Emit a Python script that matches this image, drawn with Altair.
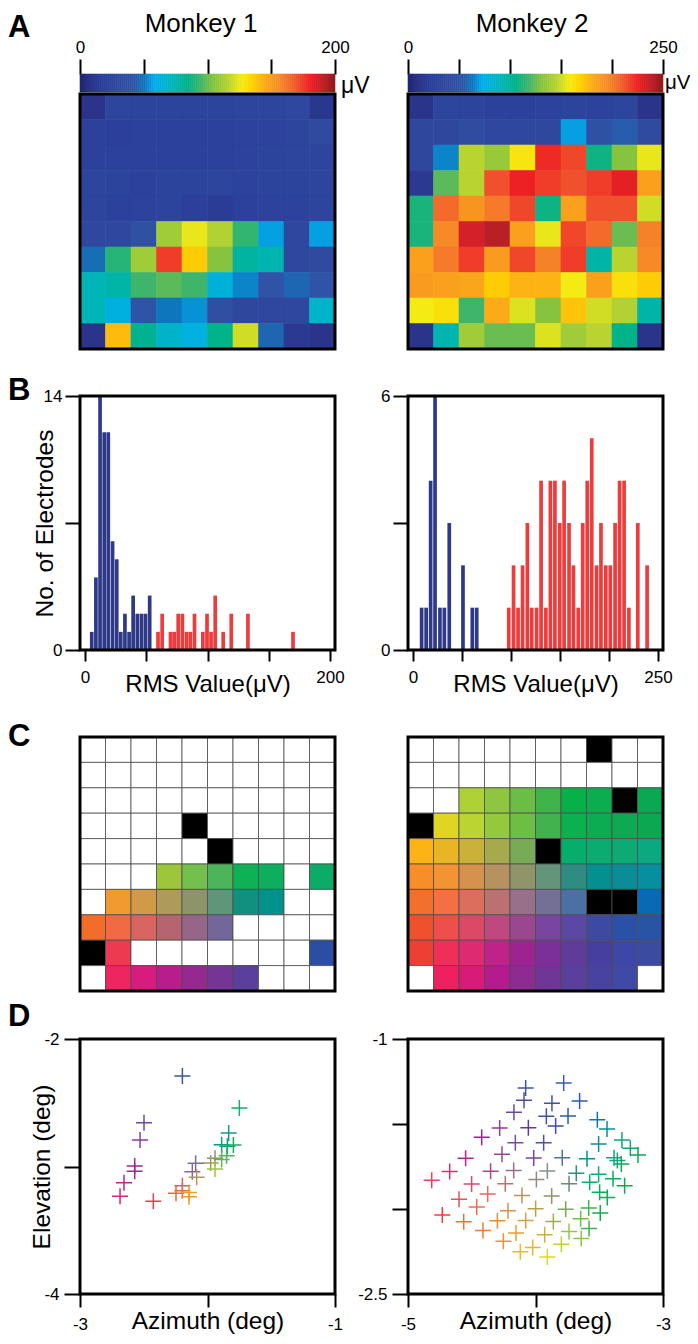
import altair as alt
import pandas as pd

FONT = "Liberation Sans"
W, H = 255, 255
one = alt.Data(values=[{"k": 0}])

# colour map of panel A (position on the bar in percent, colour)
cmap_stops = [0, 3, 8, 15, 21, 25, 29, 36, 42, 47, 52, 58, 63, 67, 72, 78, 84, 90, 95, 100]
cmap_colors = ["#1f2573", "#2a3186", "#2b3f9b", "#304a9f", "#2f55a7", "#0e76bc", "#00aeef", "#00b5b8", "#00b388",
               "#3fb56b", "#86c440", "#b9d431", "#f5eb14", "#ffd400", "#fbab18", "#f78a26", "#f15a2e",
               "#ed2024", "#c3202a", "#8a1a1c"]

# panel A: RMS per electrode, as percent of the colour-bar range
heat1 = [
    [4, 12, 11, 11, 11, 11, 12, 12, 13, 5],
    [9, 8, 9, 9, 9, 9, 10, 10, 12, 15],
    [9, 9, 9, 9, 9, 9, 10, 11, 12, 12],
    [12, 11, 9, 11, 11, 12, 10, 11, 11, 12],
    [12, 9, 10, 11, 8, 7, 9, 10, 10, 12],
    [13, 13, 19, 55, 62, 57, 46, 28, 13, 28],
    [24, 45, 55, 87, 68, 52, 39, 37, 13, 15],
    [36, 38, 47, 49, 47, 32, 26, 20, 23, 20],
    [36, 31, 20, 25, 27, 17, 14, 13, 13, 34],
    [4, 70, 41, 34, 31, 42, 60, 23, 6, 4],
]
heat2 = [
    [4, 12, 11, 9, 9, 10, 11, 10, 12, 4],
    [14, 14, 16, 13, 13, 14, 28, 19, 22, 15],
    [14, 26, 58, 54, 64, 89, 86, 43, 52, 62],
    [6, 49, 58, 85, 90, 87, 85, 87, 91, 74],
    [44, 82, 76, 80, 86, 43, 74, 85, 85, 60],
    [44, 78, 93, 96, 74, 62, 86, 82, 50, 79],
    [74, 80, 87, 75, 86, 79, 87, 38, 58, 78],
    [75, 74, 73, 68, 71, 71, 63, 74, 65, 68],
    [63, 65, 47, 72, 61, 52, 69, 60, 57, 38],
    [4, 37, 55, 50, 50, 61, 55, 58, 42, 4],
]

# panel B: histogram bins (bin centre in uV, count)
h1_blue_x = [5.5, 8.9, 12.3, 15.7, 19.0, 22.5, 25.9, 29.2, 32.6, 36.0, 39.3, 42.7, 46.1, 49.4, 52.8]
h1_blue_n = [1, 4, 14, 12, 12, 6, 5, 1, 2, 1, 3, 2, 2, 2, 3]
h1_red_x = [59.6, 63.0, 69.8, 72.8, 76.1, 79.5, 82.9, 86.0, 89.4, 96.2, 99.6, 102.9, 106.3, 112.8, 119.4, 133.0, 169.8]
h1_red_n = [1, 2, 1, 1, 2, 2, 1, 1, 2, 1, 2, 1, 3, 1, 2, 2, 1]
h2_blue_x = [8.8, 13.4, 18.0, 22.5, 27.5, 32.0, 37.0, 51.0, 60.5, 65.0]
h2_blue_n = [1, 1, 4, 6, 1, 1, 3, 2, 1, 1]
h2_red_x = [97.7, 102.6, 107.2, 111.8, 116.7, 121.2, 126.1, 130.7, 135.6, 140.2, 144.8, 149.7, 154.2, 159.2,
            163.7, 168.6, 173.2, 177.8, 182.4, 187.3, 191.8, 196.7, 201.3, 206.2, 210.8, 215.4, 220.3, 229.4, 238.9]
h2_red_n = [1, 2, 1, 2, 3, 1, 1, 4, 1, 4, 4, 3, 4, 3, 2, 1, 3, 4, 5, 2, 3, 2, 2, 3, 4, 4, 1, 3, 2]

# panel C: colour of each electrode
_ = "#ffffff"
K = "#000000"
grid1 = [
    [_, _, _, _, _, _, _, _, _, _],
    [_, _, _, _, _, _, _, _, _, _],
    [_, _, _, _, _, _, _, _, _, _],
    [_, _, _, _, K, _, _, _, _, _],
    [_, _, _, _, _, K, _, _, _, _],
    [_, _, _, "#9dc63c", "#74c04c", "#4cb45a", "#0fb157", "#0daf5e", _, "#0dab68"],
    [_, "#f19a2f", "#d09a46", "#ae9a5a", "#8d9469", "#5f9578", "#12907f", "#00928b", _, _],
    ["#f36d2a", "#f26a44", "#d96560", "#b76471", "#966688", "#736799", _, _, _, _],
    [K, "#ee3a50", _, _, _, _, _, _, _, "#2a4fa2"],
    [_, "#ee2560", "#d81c7e", "#b91c8c", "#96298f", "#733596", "#5a3f9c", _, _, _],
]
grid2 = [
    [_, _, _, _, _, _, _, K, _, _],
    [_, _, _, _, _, _, _, _, _, _],
    [_, _, "#aed136", "#8ec63f", "#6abd45", "#3fb44a", "#08b04a", "#0aae4f", K, "#09a851"],
    [K, "#e0d622", "#bcd431", "#93c93d", "#6cbe45", "#41b24e", "#0bb04f", "#0bac52", "#0eaa53", "#0ca751"],
    ["#fdb315", "#e8b624", "#c9b13a", "#a5ab4c", "#78ab55", K, "#05ae6a", "#0aac6f", "#0cab75", "#0aa97f"],
    ["#f78e29", "#f29433", "#d4924e", "#b5925f", "#8f9469", "#64947a", "#2e8c80", "#048f91", "#0c8c99", "#078fa0"],
    ["#f36f2e", "#f47044", "#db6e5c", "#bd7070", "#99708a", "#747095", "#4a70a4", K, K, "#0a69b3"],
    ["#f0512d", "#ef4f4c", "#db4966", "#c04880", "#99478f", "#7a45a0", "#5a48a2", "#3c4aa2", "#2a50a8", "#2854a6"],
    ["#ee3f35", "#ee2f58", "#de2a70", "#bf2288", "#9d2490", "#7a3098", "#5f3c9a", "#473fa0", "#3d47a5", "#3a4ba0"],
    [_, "#ee2060", "#d91b78", "#b51b8e", "#8e2b92", "#6f3698", "#5a3f9c", "#4842a0", "#3e4aa5", _],
]

# panel D: receptive field centres
d1_az = [-2.197, -1.750, -2.498, -2.529, -2.571, -2.571, -2.655, -2.686, -2.425, -1.834, -1.889, -1.844, -1.797,
         -1.850, -1.889, -1.941, -1.975, -1.941, -2.093, -2.119, -2.085, -2.197, -2.247, -2.197, -2.145, -2.145]
d1_el = [-2.290, -2.541, -2.656, -2.792, -2.996, -3.038, -3.127, -3.234, -3.273, -2.737, -2.829, -2.842, -2.831,
         -2.915, -2.946, -2.936, -2.973, -3.020, -2.975, -3.041, -3.085, -3.150, -3.210, -3.190, -3.203, -3.237]
d1_c = ["#3a54a4", "#12b06a", "#6a4a9f", "#8a3d9a", "#9a2a90", "#a5278f", "#c0228a", "#d9266f", "#ee3b50", "#0f9a8a",
        "#0f9a7c", "#10a070", "#0fb060", "#4cb45a", "#60b55a", "#8d9469", "#a09a5a", "#9dc63c", "#76709a", "#8a6a8a",
        "#ae9a5a", "#c06570", "#f2682a", "#f26a44", "#e0a03a", "#f19a2f"]

d2_az = [-4.077, -3.779, -4.090, -3.871, -3.654, -4.169, -3.915, -3.745, -3.515, -4.281, -4.056, -3.842, -3.439,
         -4.422, -4.158, -3.936, -3.505, -3.322, -4.548, -4.263, -4.014, -3.790, -3.596, -3.384, -3.256, -3.196,
         -3.358, -3.327, -4.673, -4.352, -4.171, -3.907, -3.680, -3.505, -3.392, -4.814, -4.501, -4.237, -3.993,
         -3.737, -3.575, -3.301, -4.600, -4.375, -4.106, -3.873, -3.497, -3.437, -4.731, -4.461, -4.216, -3.999,
         -3.763, -3.583, -3.492, -4.563, -4.299, -4.077, -3.860, -3.646, -3.580, -4.412, -4.153, -3.928, -3.737,
         -3.641, -4.252, -4.022, -3.797, -4.119, -3.907]
d2_el = [-1.288, -1.259, -1.361, -1.378, -1.365, -1.431, -1.455, -1.453, -1.475, -1.524, -1.522, -1.512, -1.529,
         -1.578, -1.610, -1.610, -1.618, -1.594, -1.702, -1.678, -1.700, -1.698, -1.704, -1.698, -1.643, -1.682,
         -1.714, -1.735, -1.780, -1.778, -1.773, -1.776, -1.790, -1.796, -1.822, -1.831, -1.853, -1.851, -1.827,
         -1.851, -1.843, -1.863, -1.943, -1.912, -1.920, -1.924, -1.902, -1.933, -2.035, -1.988, -2.010, -1.998,
         -2.002, -1.994, -2.024, -2.075, -2.069, -2.067, -2.073, -2.057, -2.114, -2.127, -2.141, -2.151, -2.133,
         -2.173, -2.190, -2.227, -2.208, -2.251, -2.282]
d2_c = ["#3a54a4", "#3d5aa6", "#4a4ea3", "#3a55a5", "#2a5ca8", "#6a4a9f", "#3d52a5", "#2a5ca8", "#0a78b0", "#8a3d9a",
        "#5f3c9a", "#3d4ba5", "#0a8ca0", "#9d2490", "#7a4aa0", "#4f4fa3", "#0a8c9a", "#0cab75", "#c0228a", "#99478f",
        "#7a45a0", "#4a70a4", "#048f91", "#0aa97f", "#0baa62", "#0ca751", "#0aa97f", "#0eaa53", "#de2a70", "#bf3f80",
        "#99708a", "#859090", "#2e8c80", "#0aab70", "#0bac52", "#ee3f55", "#db4966", "#bd7070", "#948a80", "#6a8a7a",
        "#0aac6f", "#0ca751", "#ee4f55", "#db6e5c", "#b5925f", "#8f9469", "#0bb04f", "#0bac52", "#ee3f35", "#ef6a4c",
        "#d4924e", "#b5a050", "#78ab55", "#41b24e", "#0aae4f", "#f36f2e", "#f28a33", "#d4a040", "#a5ab4c", "#6cbe45",
        "#41b24e", "#f37a2e", "#e8a030", "#c9b13a", "#93c93d", "#8ec63f", "#f78e29", "#e8b624", "#bcd431", "#fdb315",
        "#e0d622"]

BLUE = "#2e3a87"
RED = "#ee3b3b"
cscale = alt.Scale(domain=cmap_stops, range=cmap_colors, interpolate="rgb", clamp=True)


def frame(w=W, h=H):
    return alt.Chart(one).mark_rect(fillOpacity=0, stroke="black", strokeWidth=3).encode(
        x=alt.value(0), x2=alt.value(w), y=alt.value(0), y2=alt.value(h))


def label(txt, x, y, size, weight="normal", align="left", baseline="middle"):
    return alt.Chart(one).mark_text(text=txt, font=FONT, fontSize=size, fontWeight=weight, align=align,
                                    baseline=baseline, color="black").encode(x=alt.value(x), y=alt.value(y))


def ends(a, b):
    return f"datum.value == {a} || datum.value == {b} ? '' + datum.value : ''"


def axis(values, a, b, orient, tick, pad, lab=17, tsize=24.5, **kw):
    return alt.Axis(orient=orient, values=values, labelExpr=ends(a, b), domain=False, grid=False, tickSize=tick,
                    tickWidth=2, tickColor="black", labelFont=FONT, labelFontSize=lab, labelColor="black",
                    labelPadding=pad, labelOverlap=False, labelFlush=False, titleFont=FONT, titleFontSize=tsize,
                    titleFontWeight="normal", titleColor="black", **kw)


def spacer(h):
    return alt.Chart(one).mark_point(opacity=0).encode(x=alt.value(0), y=alt.value(0)).properties(width=W, height=h)


def colorbar(vmax, extra):
    step = vmax / 128
    levels = [i / 128 * 100 for i in range(128)]
    df = pd.DataFrame({"p": levels, "v": [p * vmax / 100 for p in levels]})
    df["v2"] = df["v"] + step
    xs = alt.Scale(domain=[0, vmax], nice=False, zero=False)
    ticks = [vmax * i / 4 for i in range(5)] if vmax == 200 else [vmax * i / 5 for i in range(6)]
    bar = alt.Chart(df).mark_rect(strokeWidth=0.6).encode(
        x=alt.X("v:Q", scale=xs, title=None, axis=axis(ticks, 0, vmax, "top", 15, 3)),
        x2="v2:Q",
        color=alt.Color("p:Q", scale=cscale, legend=None),
        stroke=alt.Stroke("p:Q", scale=cscale, legend=None),
    )
    return alt.layer(bar, *extra).properties(width=W, height=18)


def heatmap(rows):
    cells = [{"r": r, "c": c, "p": v} for r, row in enumerate(rows) for c, v in enumerate(row)]
    sc = alt.Scale(domain=list(range(10)), paddingInner=0, paddingOuter=0, round=False)
    m = alt.Chart(alt.Data(values=cells)).mark_rect(strokeWidth=0.6).encode(
        x=alt.X("c:O", scale=sc, axis=None),
        y=alt.Y("r:O", scale=sc, axis=None),
        color=alt.Color("p:Q", scale=cscale, legend=None),
        stroke=alt.Stroke("p:Q", scale=cscale, legend=None),
    )
    return alt.layer(m, frame()).properties(width=W, height=H)


def hist(bx, bn, rx, rn, xmax, xticks, ymax, yticks, xtitle, ytitle, extra):
    df = pd.DataFrame({"x": bx + rx, "n": bn + rn, "s": ["b"] * len(bx) + ["r"] * len(rx)})
    yax = dict(title=ytitle)
    if ytitle:
        yax.update(titleX=-35, titleBaseline="middle")
    m = alt.Chart(df).mark_bar(size=3.7).encode(
        x=alt.X("x:Q", scale=alt.Scale(domain=[0, xmax], nice=False, zero=False),
                axis=axis(xticks, 0, xmax, "bottom", 11, 8.5, tsize=24, title=xtitle, titleY=34,
                          titleBaseline="middle")),
        y=alt.Y("n:Q", scale=alt.Scale(domain=[0, ymax], nice=False),
                axis=axis(yticks, 0, ymax, "left", 15, 3, **yax)),
        color=alt.Color("s:N", scale=alt.Scale(domain=["b", "r"], range=[BLUE, RED]), legend=None),
    )
    return alt.layer(m, frame(W, 254), *extra).properties(width=W, height=254)


def grid(rows, extra):
    cells = [{"r": r, "c": c, "col": v} for r, row in enumerate(rows) for c, v in enumerate(row)]
    sc = alt.Scale(domain=list(range(10)), paddingInner=0, paddingOuter=0, round=False)
    m = alt.Chart(alt.Data(values=cells)).mark_rect(stroke="#4d4d4d", strokeWidth=0.8).encode(
        x=alt.X("c:O", scale=sc, axis=None),
        y=alt.Y("r:O", scale=sc, axis=None),
        fill=alt.Fill("col:N", scale=None),
    )
    return alt.layer(m, frame(W, 254), *extra).properties(width=W, height=254)


def scatter(az, el, cols, xd, xticks, yd, yticks, ytitle, extra):
    df = pd.DataFrame({"az": az, "el": el, "col": cols})
    yax = dict(title=ytitle)
    if ytitle:
        yax.update(titleX=-38, titleBaseline="middle")
    m = alt.Chart(df).mark_point(shape="M-1,0H1M0,-1V1", size=256, filled=False, strokeWidth=1.5, opacity=1).encode(
        x=alt.X("az:Q", scale=alt.Scale(domain=xd, nice=False, zero=False),
                axis=axis(xticks, xd[0], xd[1], "bottom", 13, 9.5, title="Azimuth (deg)", titleY=27,
                          titleBaseline="middle")),
        y=alt.Y("el:Q", scale=alt.Scale(domain=yd, nice=False, zero=False),
                axis=axis(yticks, yd[0], yd[1], "left", 16, 5, **yax)),
        color=alt.Color("col:N", scale=None),
    )
    return alt.layer(m, frame(), *extra).properties(width=W, height=H)


panels = [
    colorbar(200, [label("Monkey 1", 121, -42, 26, align="center", baseline="alphabetic"),
                   label("A", -72, -46, 31, "bold"),
                   label("μV", 261, 12, 23)]),
    colorbar(250, [label("Monkey 2", 124, -42, 26, align="center", baseline="alphabetic"),
                   label("μV", 257, 9, 20.5)]),
    spacer(2), spacer(2),
    heatmap(heat1), heatmap(heat2),
    spacer(47), spacer(47),
    hist(h1_blue_x, h1_blue_n, h1_red_x, h1_red_n, 200, [0, 50, 100, 150, 200], 14, [0, 7, 14],
         "RMS Value(μV)", "No. of Electrodes", [label("B", -72, -5, 31, "bold")]),
    hist(h2_blue_x, h2_blue_n, h2_red_x, h2_red_n, 250, [0, 50, 100, 150, 200, 250], 6, [0, 3, 6],
         "RMS Value(μV)", None, []),
    spacer(87), spacer(87),
    grid(grid1, [label("C", -72, 0, 31, "bold")]),
    grid(grid2, []),
    spacer(48), spacer(48),
    scatter(d1_az, d1_el, d1_c, [-3, -1], [-3, -2, -1], [-4, -2], [-4, -3, -2], "Elevation (deg)",
            [label("D", -72, -22, 31, "bold")]),
    scatter(d2_az, d2_el, d2_c, [-5, -3], [-5, -4, -3], [-2.5, -1], [-2.5, -2, -1.5, -1], None, []),
]

chart = alt.concat(*panels, columns=2, spacing={"row": 0, "column": 73}, bounds="flush", align="each").properties(
    autosize=alt.AutoSizeParams(type="none"),
    padding={"left": 72, "top": 66, "right": 610, "bottom": 1262},
    background="white",
).configure_view(stroke="transparent", strokeWidth=0)
chart.save("out.html", embed_options={"renderer": "svg", "actions": False})
